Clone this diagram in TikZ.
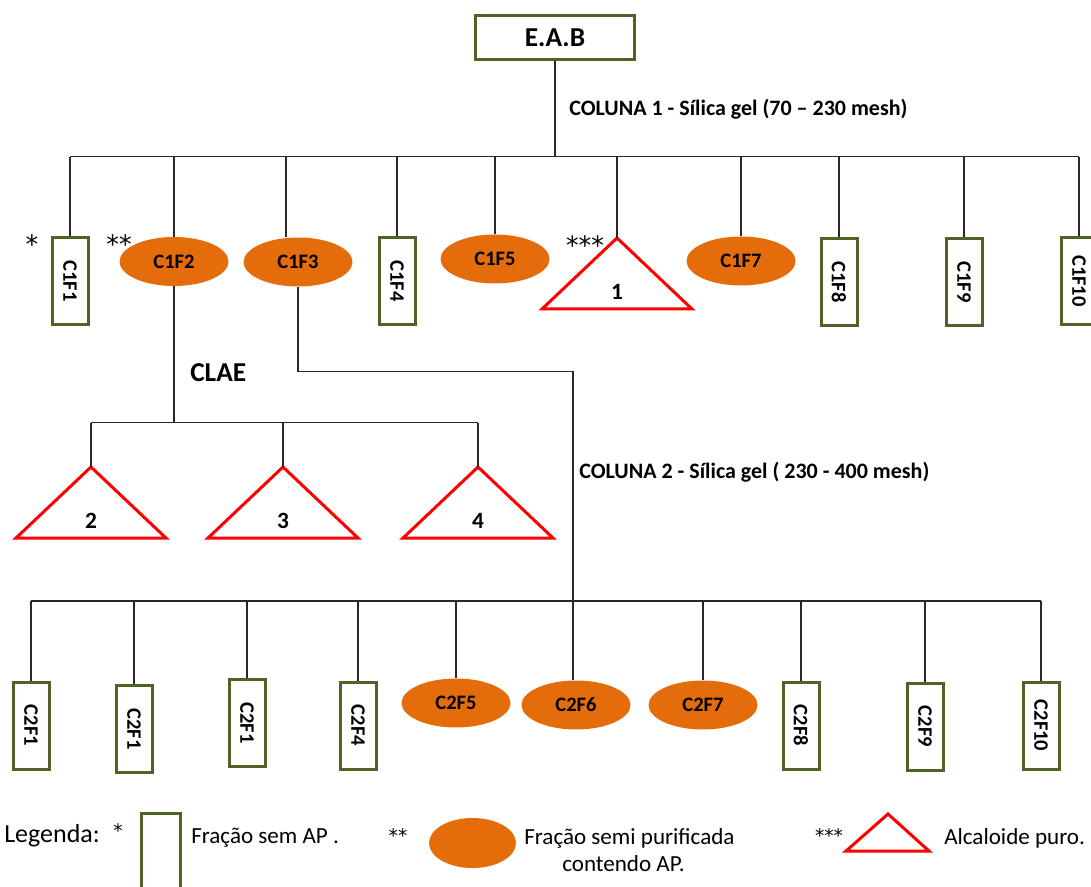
\documentclass[tikz,border=0pt]{standalone}
\usepackage{fontspec}
\setmainfont{Carlito}
\newfontfamily\starfont{DejaVu Sans}
\usetikzlibrary{shapes.geometric}
\definecolor{boxgreen}{RGB}{79,98,40}
\definecolor{fraco}{RGB}{228,108,10}
\definecolor{tred}{RGB}{255,0,0}
\definecolor{linegray}{RGB}{40,40,40}
\newcommand{\alcal}[3]{%
  \coordinate (#1) at (#2);
  \draw[tri] (#1) -- ++(-75,71) -- ++(150,0) -- cycle;
  \node[trinum] (#1n) at ([yshift=-40.5pt]#1) {#3};
}
\begin{document}
\begin{tikzpicture}[x=0.75pt,y=-0.75pt,
  conn/.style={draw=linegray, line width=1.1pt},
  gbox/.style={draw=boxgreen, line width=2.25pt, fill=white, minimum width=27pt,
    minimum height=65.25pt, inner sep=0pt, font=\bfseries\fontsize{15.4}{18}\selectfont},
  oval/.style={ellipse, fill=fraco, minimum width=81.75pt, minimum height=36.75pt,
    inner sep=0pt, font=\bfseries\fontsize{15.4}{18}\selectfont},
  tri/.style={draw=tred, line width=2.25pt, line join=miter},
  trinum/.style={inner sep=0pt, font=\bfseries\fontsize{17.5}{20}\selectfont},
  lbl/.style={inner sep=0pt, anchor=west, font=\bfseries\fontsize{16.5}{19}\selectfont},
  star/.style={inner sep=0pt, font=\starfont\fontsize{19}{22}\selectfont},
  lstar/.style={inner sep=0pt, font=\starfont\fontsize{14}{16}\selectfont},
  legtxt/.style={inner sep=0pt, anchor=west, font=\fontsize{17.3}{20}\selectfont}
]
\useasboundingbox (0,0) rectangle (1091,887);
\clip (0,0) rectangle (1091,887);

% root
\node[draw=boxgreen, line width=2.25pt, minimum width=119pt, minimum height=33pt,
  inner sep=0pt, font=\bfseries\fontsize{20.5}{23}\selectfont] (eab) at (555,37.5) {E.A.B};
\node[lbl] (col1) at (569,109) {COLUNA 1 - Sílica gel (70 – 230 mesh)};

% top bus
\coordinate (b1l) at (70,156.7);
\coordinate (b1r) at (1079,156.7);
\draw[conn] (b1l) -- (b1r);
\draw[conn] (eab.south) -- (eab.south |- b1l);

% top row
\node[gbox] (c1f1) at (70,281) {\rotatebox{-90}{C1F1}};
\node[oval] (c1f2) at (174,261.5) {C1F2};
\node[oval] (c1f3) at (298,262) {C1F3};
\node[gbox] (c1f4) at (397,281) {\rotatebox{-90}{C1F4}};
\node[oval] (c1f5) at (495,259) {C1F5};
\alcal{t1}{617,238}{1}
\node[oval] (c1f7) at (741,261) {C1F7};
\node[gbox] (c1f8) at (839,282) {\rotatebox{-90}{C1F8}};
\node[gbox] (c1f9) at (964,282) {\rotatebox{-90}{C1F9}};
\node[gbox] (c1f10) at (1079,281) {\rotatebox{-90}{C1F10}};

\foreach \n in {c1f1,c1f2,c1f4,c1f5,c1f7,c1f8,c1f9,c1f10}
  \draw[conn] (\n.north) -- (\n.north |- b1l);
\draw[conn] ([xshift=-9pt]c1f3.north) -- ([xshift=-9pt]c1f3.north |- b1l);
\draw[conn] (t1) -- (t1 |- b1l);

\node[star] (s1) at (32,244) {*};
\node[star] (s2) at (119,244) {**};
\node[star] (s3) at (585,245) {***};

% CLAE branch
\coordinate (cll) at (91,422.7);
\coordinate (clr) at (478,422.7);
\draw[conn] (c1f2.south) -- (c1f2.south |- cll);
\draw[conn] (cll) -- (clr);
\node[lbl, font=\bfseries\fontsize{20.5}{23}\selectfont] (clae) at (190,373) {CLAE};
\alcal{t2}{91,467}{2}
\alcal{t3}{283,467}{3}
\alcal{t4}{478,467}{4}
\foreach \t in {t2,t3,t4}
  \draw[conn] (\t) -- (\t |- cll);

% column 2
\coordinate (k2) at (573,371.7);
\coordinate (b3l) at (31,601);
\coordinate (b3r) at (1041,601);
\node[lbl] (col2) at (579,472) {COLUNA 2 - Sílica gel ( 230 - 400 mesh)};
\draw[conn] (b3l) -- (b3r);

\node[gbox] (c2f1a) at (31,725.5) {\rotatebox{-90}{C2F1}};
\node[gbox] (c2f1b) at (134,729) {\rotatebox{-90}{C2F1}};
\node[gbox] (c2f1c) at (247,723) {\rotatebox{-90}{C2F1}};
\node[gbox] (c2f4) at (358,725.5) {\rotatebox{-90}{C2F4}};
\node[oval] (c2f5) at (456,703) {C2F5};
\node[oval] (c2f6) at (576,705) {C2F6};
\node[oval] (c2f7) at (703,705) {C2F7};
\node[gbox] (c2f8) at (801,725.5) {\rotatebox{-90}{C2F8}};
\node[gbox] (c2f9) at (925,726.5) {\rotatebox{-90}{C2F9}};
\node[gbox] (c2f10) at (1041,725.5) {\rotatebox{-90}{C2F10}};

\draw[conn] (c1f3.south) |- (k2) -- (k2 |- c2f6.north);
\foreach \n in {c2f1a,c2f1b,c2f1c,c2f4,c2f5,c2f7,c2f8,c2f9,c2f10}
  \draw[conn] (\n.north) -- (\n.north |- b3l);

% legend
\node[inner sep=0pt, anchor=west, font=\fontsize{19.5}{22}\selectfont] (leg) at (4,836) {Legenda:};
\node[lstar] (ls1) at (118,831) {*};
\node[draw=boxgreen, line width=2.25pt, minimum width=29pt, minimum height=70pt, inner sep=0pt] (lbox) at (161,860) {};
\node[legtxt] (lt1) at (191,838) {Fração sem AP .};
\node[lstar] (ls2) at (398,836) {**};
\node[ellipse, fill=fraco, minimum width=65.25pt, minimum height=37.5pt, inner sep=0pt] (lell) at (472.5,843) {};
\node[legtxt] (lt2) at (524,838) {Fração semi purificada};
\node[legtxt] (lt3) at (562,864) {contendo AP.};
\node[lstar] (ls3) at (829,836) {***};
\coordinate (ltri) at (888,814);
\draw[tri] (ltri) -- (846,851) -- (929,851) -- cycle;
\node[legtxt] (lt4) at (944,838) {Alcaloide puro.};
\end{tikzpicture}
\end{document}
